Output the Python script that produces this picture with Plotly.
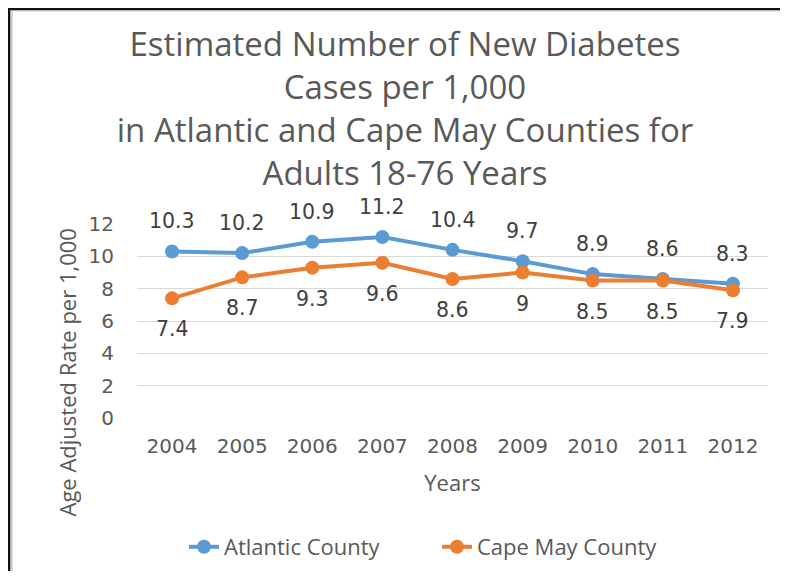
import plotly.graph_objects as go

years = ["2004", "2005", "2006", "2007", "2008", "2009", "2010", "2011", "2012"]
atlantic = [10.3, 10.2, 10.9, 11.2, 10.4, 9.7, 8.9, 8.6, 8.3]
cape_may = [7.4, 8.7, 9.3, 9.6, 8.6, 9.0, 8.5, 8.5, 7.9]
y_ticks = [0, 2, 4, 6, 8, 10, 12]

# page body has an 8px margin; figure sized to fit the window without scrollbars
OFF = 8
W, H = 774, 564
L, R, T, B = 137 - OFF, W - (768 - OFF), 224 - OFF, H - (418 - OFF)
PW, PH = W - L - R, H - T - B


def px2x(px):
    return (px - OFF - L) / PW


def py2y(py):
    return (H - B - (py - OFF)) / PH


BLUE = "#5B9BD5"
ORANGE = "#ED7D31"
TXT = "#595959"
LBL = "#404040"

fig = go.Figure()
fig.add_trace(go.Scatter(x=years, y=atlantic, name="Atlantic County", mode="lines+markers",
                         line=dict(color=BLUE, width=4), marker=dict(size=14, color=BLUE)))
fig.add_trace(go.Scatter(x=years, y=cape_may, name="Cape May County", mode="lines+markers",
                         line=dict(color=ORANGE, width=4), marker=dict(size=14, color=ORANGE)))

annotations = []
for i, v in enumerate(atlantic):
    annotations.append(dict(x=i, y=v, xref="x", yref="y", text=f"{v:g}", showarrow=False,
                            yshift=30, font=dict(family="DejaVu Sans", size=20.5, color=LBL)))
for i, v in enumerate(cape_may):
    annotations.append(dict(x=i, y=v, xref="x", yref="y", text=f"{v:g}", showarrow=False,
                            yshift=-31, font=dict(family="DejaVu Sans", size=20.5, color=LBL)))

annotations.append(dict(x=px2x(66), y=py2y(372.5), xref="paper", yref="paper",
                        text="Age Adjusted Rate per 1,000", textangle=-90, showarrow=False,
                        xanchor="center", yanchor="middle",
                        font=dict(family="Open Sans", size=22, color=TXT)))

XR = OFF + W - 2
YB = OFF + H - 1
shapes = [
    dict(type="line", xref="paper", yref="paper", x0=px2x(11.5), x1=px2x(11.5), y0=py2y(11), y1=py2y(YB),
         line=dict(color="#CFCFCF", width=2.5)),
    dict(type="line", xref="paper", yref="paper", x0=px2x(11), x1=px2x(XR), y0=py2y(11), y1=py2y(11),
         line=dict(color="#E3E3E3", width=1.5)),
    dict(type="line", xref="paper", yref="paper", x0=px2x(9), x1=px2x(9), y0=py2y(7.8), y1=py2y(YB),
         line=dict(color="#111111", width=2.5)),
    dict(type="line", xref="paper", yref="paper", x0=px2x(7.8), x1=px2x(XR), y0=py2y(9), y1=py2y(9),
         line=dict(color="#111111", width=2.5)),
]

fig.update_layout(
    width=W, height=H,
    margin=dict(l=L, r=R, t=T, b=B),
    paper_bgcolor="white", plot_bgcolor="white",
    title=dict(text="Estimated Number of New Diabetes<br>Cases per 1,000<br>in Atlantic and Cape May Counties for<br>Adults 18-76 Years",
               x=(405 - OFF) / W, xanchor="center", xref="container",
               y=1 - 48 / H, yanchor="middle", yref="container",
               font=dict(family="Open Sans", size=33, color=TXT)),
    xaxis=dict(type="category", range=[-0.5, 8.5], showgrid=False, showline=False, zeroline=False,
               ticks="", tickfont=dict(family="DejaVu Sans", size=20, color=TXT), ticklabelstandoff=14,
               title=dict(text="Years", font=dict(family="Open Sans", size=22, color=TXT), standoff=18)),
    yaxis=dict(range=[0, 12], tickvals=y_ticks, showgrid=True, gridcolor="#D9D9D9", gridwidth=1,
               zeroline=False, showline=False, ticks="",
               tickfont=dict(family="DejaVu Sans", size=20, color=TXT), ticklabelstandoff=22),
    showlegend=True,
    legend=dict(orientation="h", xref="container", yref="container", x=176 / W, xanchor="left",
                y=1 - 539 / H, yanchor="middle", font=dict(family="Open Sans", size=22, color=TXT),
                entrywidth=208, bgcolor="rgba(0,0,0,0)"),
    annotations=annotations,
    shapes=shapes,
)

fig.write_html("out.html")
